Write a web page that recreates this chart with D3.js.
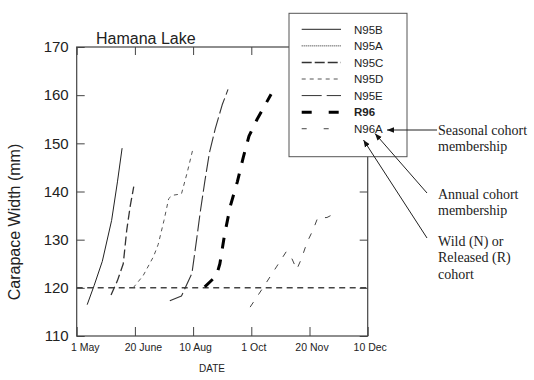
<!DOCTYPE html>
<html>
<head>
<meta charset="utf-8">
<script src="https://cdn.jsdelivr.net/npm/d3@7"></script>
<style>
  body { margin: 0; background: #fff; }
  svg { display: block; }
</style>
</head>
<body>
<svg id="chart" width="534" height="380"></svg>
<script>
// ---- Data (x = days after 1 May, y = carapace width in mm) ----
const xTickValues = [0, 50, 100, 150, 200, 250];
const xTickLabels = ["1 May", "20 June", "10 Aug", "1 Oct", "20 Nov", "10 Dec"];
const yTickValues = [110, 120, 130, 140, 150, 160, 170];
const threshold = 120;

const seriesNames = ["N95B", "N95A", "N95C", "N95D", "N95E", "R96", "N96A"];

const N95B = [[9,116.5],[15,120.5],[22,125.5],[30,134],[35,142],[39,149]];
const N95A = [];
const N95C = [[29.5,118.5],[35,121.5],[40,125],[43,132],[46,137],[49,141]];
const N95D = [[48.5,120],[57,122.5],[66,126.5],[70,129],[75,134],[79,138.5],[82,139.2],[90,139.5],[95,144],[100,149]];
const N95E = [[80,117.3],[90,118.3],[99,123],[103,130],[106,135.5],[110,142],[114,148],[119,153],[125,158],[130,161.2]];
const R96  = [[110,120.2],[120,122.5],[123,125],[127,131],[132,137],[138,142],[143,147],[148,151.5],[155,155],[167,160.2]];
const N96A = [[149,116],[160,120],[172,124.5],[180,127.5],[185,126],[189,123.8],[193,126],[198,129.5],[203,132],[207,134.5],[215,134.6],[223,135.6]];

const seriesData = [N95B, N95A, N95C, N95D, N95E, R96, N96A];

// ---- Styles ----
const styles = {
  N95B: {stroke: "#222", width: 1,   dash: null},
  N95A: {stroke: "#222", width: 1,   dash: "1,1"},
  N95C: {stroke: "#333", width: 1.3, dash: "9,4"},
  N95D: {stroke: "#555", width: 1,   dash: "4,4"},
  N95E: {stroke: "#333", width: 1.1, dash: "16,4"},
  R96:  {stroke: "#000", width: 3,   dash: "11,11"},
  N96A: {stroke: "#444", width: 1,   dash: "6,9"}
};
const legendDash = {
  N95B: null, N95A: "1,1", N95C: "10,3", N95D: "4,4", N95E: "20,5", R96: "10,17", N96A: "5,17"
};

const svg = d3.select("#chart");
const L = 76.7, R = 367.7, T = 47, B = 336;

const x = d3.scaleLinear().domain([0, 250]).range([L, R]);
const y = d3.scaleLinear().domain([110, 170]).range([B, T]);

const axisColor = "#444";

// threshold line
svg.append("line")
  .attr("x1", x(0)).attr("x2", x(250))
  .attr("y1", y(threshold)).attr("y2", y(threshold))
  .attr("stroke", "#444").attr("stroke-width", 1.5)
  .attr("stroke-dasharray", "6,4.5");

// series lines
const line = d3.line().x(d => x(d[0])).y(d => y(d[1]));
seriesNames.forEach((name, i) => {
  const data = seriesData[i];
  if (!data.length) return;
  const s = styles[name];
  svg.append("path")
    .attr("d", line(data))
    .attr("fill", "none")
    .attr("stroke", s.stroke)
    .attr("stroke-width", s.width)
    .attr("stroke-dasharray", s.dash)
    .attr("stroke-linejoin", "round");
});

// axes
const gB = svg.append("g").attr("transform", `translate(0,${B})`)
  .call(d3.axisBottom(x).tickValues(xTickValues)
    .tickFormat((d, i) => xTickLabels[i]).tickSizeInner(-9).tickSizeOuter(0).tickPadding(8));
gB.selectAll("text").attr("font-family", "Liberation Sans, Arial, sans-serif")
  .attr("font-size", 10.5).attr("fill", "#222")
  .attr("dx", (d, i) => i === 0 ? 8 : (i === 1 ? 8 : 2));

const gT = svg.append("g").attr("transform", `translate(0,${T})`)
  .call(d3.axisTop(x).tickValues(xTickValues).tickFormat("").tickSizeInner(-8).tickSizeOuter(0));

const gL = svg.append("g").attr("transform", `translate(${L},0)`)
  .call(d3.axisLeft(y).tickValues(yTickValues).tickSizeInner(-8).tickSizeOuter(0).tickPadding(8));
gL.selectAll("text").attr("font-family", "Liberation Sans, Arial, sans-serif")
  .attr("font-size", 15).attr("fill", "#222");

const gR = svg.append("g").attr("transform", `translate(${R},0)`)
  .call(d3.axisRight(y).tickValues(yTickValues).tickFormat("").tickSizeInner(-8).tickSizeOuter(0));

[gB, gT, gL, gR].forEach(g => {
  g.select(".domain").remove();
  g.selectAll(".tick line").attr("stroke", axisColor);
});

// frame
svg.append("rect").attr("x", L).attr("y", T).attr("width", R - L).attr("height", B - T)
  .attr("fill", "none").attr("stroke", axisColor).attr("stroke-width", 1.2);

// titles
svg.append("text").attr("x", 96).attr("y", 44)
  .attr("font-family", "Liberation Sans, Arial, sans-serif").attr("font-size", 16)
  .attr("fill", "#222").text("Hamana Lake");

svg.append("text").attr("transform", "translate(20,222) rotate(-90)")
  .attr("text-anchor", "middle")
  .attr("font-family", "Liberation Sans, Arial, sans-serif").attr("font-size", 16)
  .attr("fill", "#222").text("Carapace Width (mm)");

svg.append("text").attr("x", 212).attr("y", 372).attr("text-anchor", "middle")
  .attr("font-family", "Liberation Sans, Arial, sans-serif").attr("font-size", 10)
  .attr("fill", "#222").text("DATE");

// legend
const lg = svg.append("g");
lg.append("rect").attr("x", 289).attr("y", 13.3).attr("width", 118).attr("height", 143.4)
  .attr("fill", "#fff").attr("stroke", "#555").attr("stroke-width", 1);
seriesNames.forEach((name, i) => {
  const yy = 29.3 + i * 16.57;
  const s = styles[name];
  lg.append("line").attr("x1", 301.7).attr("x2", 341).attr("y1", yy).attr("y2", yy)
    .attr("stroke", s.stroke).attr("stroke-width", name === "R96" ? 3 : (name === "N95C" ? 1.5 : 1))
    .attr("stroke-dasharray", legendDash[name]);
  lg.append("text").attr("x", 354).attr("y", yy + 4.2)
    .attr("font-family", "Liberation Sans, Arial, sans-serif").attr("font-size", 11.5)
    .attr("font-weight", name === "R96" ? "bold" : "normal")
    .attr("fill", "#222").text(name);
});

// annotations
const defs = svg.append("defs");
defs.append("marker").attr("id", "ah").attr("viewBox", "0 0 10 10")
  .attr("refX", 10).attr("refY", 5).attr("markerWidth", 7).attr("markerHeight", 7)
  .attr("orient", "auto-start-reverse").attr("markerUnits", "userSpaceOnUse")
  .append("path").attr("d", "M0,1 L10,5 L0,9 Z").attr("fill", "#111");

const notes = [
  {lines: ["Seasonal cohort", "membership"], ty: 134.5, from: [437, 130], to: [387, 130]},
  {lines: ["Annual cohort", "membership"], ty: 199, from: [427, 193], to: [375, 133.5]},
  {lines: ["Wild (N) or", "Released (R)", "cohort"], ty: 246, from: [427, 238], to: [363.5, 140]}
];
notes.forEach(n => {
  svg.append("line").attr("x1", n.from[0]).attr("y1", n.from[1])
    .attr("x2", n.to[0]).attr("y2", n.to[1])
    .attr("stroke", "#222").attr("stroke-width", 1).attr("marker-end", "url(#ah)");
  const t = svg.append("text").attr("font-family", "Liberation Serif, Times New Roman, serif")
    .attr("font-size", 14).attr("fill", "#222");
  n.lines.forEach((ln, j) => {
    t.append("tspan").attr("x", 438).attr("y", n.ty + j * 16.3).text(ln);
  });
});
</script>
</body>
</html>
